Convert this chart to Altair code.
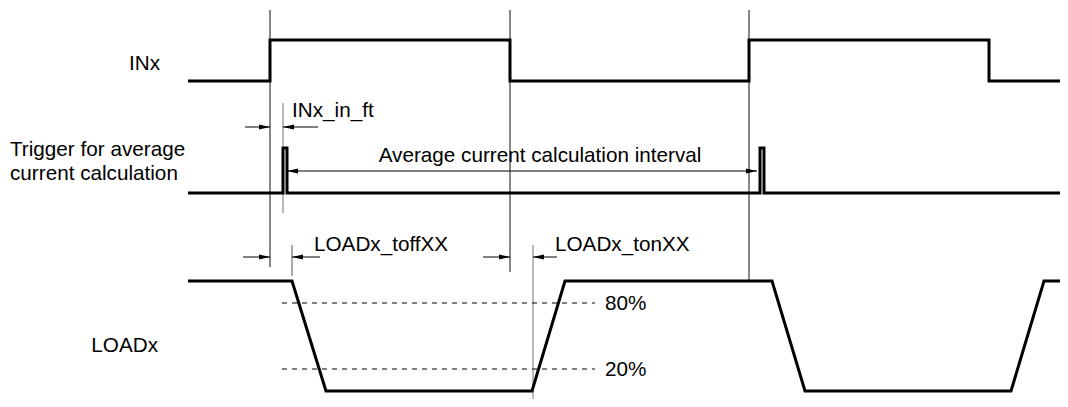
import altair as alt
import pandas as pd

W, H = 1052, 391
PAGE = 8

# ---- waveforms (time, level in diagram units) ----
inx_t = [188, 270, 270, 510, 510, 749, 749, 989, 989, 1068]
inx_y = [81, 81, 40, 40, 81, 81, 40, 40, 81, 81]

trig_t = [188, 283, 283, 287, 287, 760, 760, 764, 764, 1068]
trig_y = [193, 193, 148, 148, 193, 193, 148, 148, 193, 193]

load_t = [188, 292, 326, 532, 565, 772, 805, 1011, 1044, 1068]
load_y = [281, 281, 391, 391, 281, 281, 391, 391, 281, 281]

# ---- thin vertical timing markers ----
mk_t = [270, 510, 749, 283, 292, 533]
mk_top = [10, 10, 10, 103, 245, 245]
mk_bot = [267, 272, 281, 213, 276, 407]
mk_col = ["#111111", "#111111", "#111111", "#777777", "#555555", "#777777"]

# ---- dashed threshold levels ----
thr_y = [303, 369]
thr_lbl = ["80%", "20%"]
thr_from, thr_to = 282, 595

# ---- dimension arrows (shafts and heads) ----
sh_from = [245, 283, 287, 243, 292, 483, 533]
sh_to = [270, 318, 757, 270, 320, 510, 557]
sh_y = [127, 127, 171, 257, 257, 257, 257]

hd_t = [270, 283, 287, 757, 270, 292, 510, 533]
hd_y = [127, 127, 171, 171, 257, 257, 257, 257]
hd_dir = ["r", "l", "l", "r", "r", "l", "r", "l"]

# ---- texts ----
tx_lbl = ["INx", "Trigger for average", "current calculation", "LOADx",
          "INx_in_ft", "Average current calculation interval",
          "LOADx_toffXX", "LOADx_tonXX", "80%", "20%"]
tx_t = [160, 10, 10, 158, 292, 540, 314, 555, 605, 605]
tx_y = [70, 155.5, 179.5, 352, 117, 161.5, 251, 251, 310, 376]
tx_al = ["right", "left", "left", "right", "left", "center",
         "left", "left", "left", "left"]

FONT = "Liberation Sans"
FS = 20.7

xs = alt.Scale(domain=[PAGE, PAGE + W], range=[0, W])
ys = alt.Scale(domain=[PAGE, PAGE + H], range=[0, H])


def wave(t, y, name):
    return pd.DataFrame({"t": t, "y": y, "i": range(len(t)), "sig": name})


waves = pd.concat([wave(inx_t, inx_y, "INx"),
                   wave(trig_t, trig_y, "TRIG"),
                   wave(load_t, load_y, "LOAD")])

wave_layer = alt.Chart(waves).mark_line(
    color="black", strokeWidth=3, strokeJoin="miter", clip=True
).encode(
    x=alt.X("t:Q", scale=xs, axis=None),
    y=alt.Y("y:Q", scale=ys, axis=None),
    detail="sig:N",
    order="i:Q",
)

mk_df = pd.DataFrame({"t": mk_t, "y1": mk_top, "y2": mk_bot, "c": mk_col})
mk_layer = alt.Chart(mk_df).mark_rule(strokeWidth=1).encode(
    x=alt.X("t:Q", scale=xs, axis=None),
    y=alt.Y("y1:Q", scale=ys, axis=None),
    y2="y2:Q",
    color=alt.Color("c:N", scale=None),
)

thr_df = pd.DataFrame({"y": thr_y, "x1": thr_from, "x2": thr_to})
thr_layer = alt.Chart(thr_df).mark_rule(
    strokeWidth=1, color="black", strokeDash=[5, 5]
).encode(
    x=alt.X("x1:Q", scale=xs, axis=None),
    x2="x2:Q",
    y=alt.Y("y:Q", scale=ys, axis=None),
)

sh_df = pd.DataFrame({"x1": sh_from, "x2": sh_to, "y": sh_y})
sh_layer = alt.Chart(sh_df).mark_rule(strokeWidth=1, color="black").encode(
    x=alt.X("x1:Q", scale=xs, axis=None),
    x2="x2:Q",
    y=alt.Y("y:Q", scale=ys, axis=None),
)

PATH_R = "M0,0L-2,-0.45L-2,0.45Z"
PATH_L = "M0,0L2,-0.45L2,0.45Z"
hd_df = pd.DataFrame({"t": hd_t, "y": hd_y, "d": hd_dir})
hd_layer = alt.Chart(hd_df).mark_point(
    filled=True, color="black", size=121, opacity=1, strokeWidth=0
).encode(
    x=alt.X("t:Q", scale=xs, axis=None),
    y=alt.Y("y:Q", scale=ys, axis=None),
    shape=alt.Shape("d:N", scale=alt.Scale(domain=["r", "l"],
                                           range=[PATH_R, PATH_L]),
                    legend=None),
)

tx_df = pd.DataFrame({"lbl": tx_lbl, "t": tx_t, "y": tx_y, "al": tx_al})
text_layers = []
for al in ["left", "right", "center"]:
    text_layers.append(
        alt.Chart(tx_df).transform_filter(alt.datum.al == al).mark_text(
            align=al, baseline="alphabetic", font=FONT, fontSize=FS,
            color="black"
        ).encode(
            x=alt.X("t:Q", scale=xs, axis=None),
            y=alt.Y("y:Q", scale=ys, axis=None),
            text="lbl:N",
        )
    )

chart = alt.layer(
    mk_layer, thr_layer, sh_layer, hd_layer, wave_layer, *text_layers
).properties(
    width=W, height=H, padding=0, autosize="none", background="white"
).configure_view(stroke=None)

chart.save("out.html", embed_options={"renderer": "svg", "actions": False})
